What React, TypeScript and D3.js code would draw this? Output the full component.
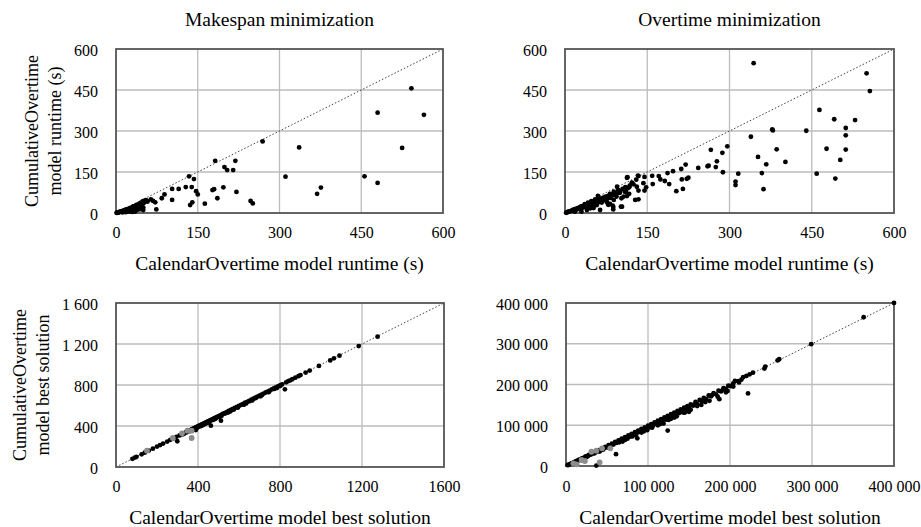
import * as d3 from "d3";
import { useEffect, useRef } from "react";

// tick values
const runtimeTicks = [0, 150, 300, 450, 600];
const makespanSolutionTicks = [0, 400, 800, 1200, 1600];
const overtimeSolutionTicks = [0, 100000, 200000, 300000, 400000];

// [CalendarOvertime, CumulativeOvertime]
const makespanRuntime = [
  [542, 456], [480, 367], [565, 359], [525, 238], [336, 240], [269, 262], [311, 133], [456, 134],
  [480, 110], [376, 93], [369, 70], [182, 191], [219, 191], [199, 168], [204, 157], [215, 157],
  [134, 134], [143, 124], [128, 95], [139, 95], [147, 80], [150, 68], [115, 88], [103, 88],
  [103, 48], [136, 29], [140, 39], [163, 34], [177, 84], [180, 87], [197, 94], [186, 54],
  [221, 77], [247, 44], [251, 35], [84, 54], [89, 68], [64, 50], [68, 44], [72, 39], [74, 13],
  [53, 41], [50, 35], [47, 29], [42, 23], [50, 11],
  [1, 0.5], [2, 1], [3, 1.5], [4, 2], [5, 3], [6, 3], [7, 4], [8, 5], [9, 5], [10, 6], [11, 7],
  [12, 6], [13, 8], [14, 9], [15, 8], [16, 10], [17, 11], [18, 9], [19, 12], [20, 13], [21, 10],
  [22, 14], [23, 15], [24, 11], [25, 16], [26, 18], [27, 13], [28, 19], [29, 20], [30, 14],
  [31, 22], [32, 24], [33, 17], [34, 25], [35, 10], [36, 26], [37, 28], [38, 20], [39, 30],
  [40, 31], [41, 15], [43, 33], [44, 25], [45, 35], [46, 38], [48, 36], [49, 42], [51, 44],
  [52, 39], [55, 47], [58, 42], [12, 2], [18, 3], [25, 5], [30, 4], [20, 6], [30, 8], [35, 5],
  [40, 12], [45, 14], [50, 20],
];

const overtimeRuntime = [
  [344, 548], [550, 511], [556, 446], [464, 377], [491, 343], [529, 340], [378, 306], [379, 302],
  [440, 301], [512, 311], [512, 284], [339, 279], [477, 235], [512, 232], [386, 233], [502, 194],
  [352, 205], [367, 178], [402, 187], [359, 146], [459, 144], [493, 126], [362, 87], [316, 144],
  [311, 115], [311, 102], [296, 244], [287, 220], [266, 231], [277, 189], [275, 168], [262, 173],
  [260, 171], [288, 149], [243, 165], [220, 177], [212, 161], [225, 129], [222, 125], [215, 88],
  [213, 123], [197, 153], [187, 146], [203, 80], [190, 106], [182, 117], [174, 123], [171, 135],
  [159, 136], [160, 106],
  [134, 135], [145, 132], [130, 122], [143, 109], [131, 96], [145, 82], [148, 94], [128, 48],
  [134, 50], [114, 131], [122, 109], [114, 90], [111, 78], [107, 60], [104, 23], [117, 70],
  [97, 84], [95, 96], [89, 48], [89, 78], [78, 62], [82, 70], [84, 55], [88, 22], [87, 27],
  [79, 30], [78, 35], [60, 63], [55, 50], [48, 43], [42, 38], [36, 32], [52, 18], [43, 18],
  [113, 129], [133, 137], [122, 111], [134, 82], [117, 94], [109, 78], [100, 74], [94, 60],
  [103, 54], [113, 62], [102, 23], [88, 13], [82, 33], [76, 41], [67, 38], [58, 29], [52, 23],
  [64, 11], [46, 17], [40, 11], [30, 5], [18, 5],
  [60, 45], [70, 52], [75, 58], [65, 48], [85, 65], [90, 68], [95, 72], [100, 80], [105, 88],
  [110, 95], [118, 100], [125, 105],
  [2, 1], [4, 2], [5, 4], [7, 5], [8, 6], [10, 7], [12, 9], [13, 8], [15, 12], [16, 10], [18, 14],
  [20, 15], [21, 12], [23, 18], [25, 19], [26, 16], [28, 22], [30, 24], [31, 18], [33, 26],
  [35, 27], [36, 22], [38, 30], [40, 31], [41, 25], [43, 34], [45, 35], [46, 28], [48, 38],
  [50, 40], [51, 30], [53, 42], [55, 44], [56, 35], [58, 46], [62, 50], [63, 40], [66, 53],
  [68, 45], [70, 56], [72, 48], [74, 60], [76, 50], [80, 62], [82, 55], [86, 66], [92, 70], [98, 75],
];

const makespanSolution = [
  [80, 80], [92, 92], [100, 99], [125, 124], [140, 140], [160, 160], [180, 179], [200, 199],
  [215, 214], [230, 229], [250, 248], [265, 265], [280, 279], [295, 294], [299, 251], [310, 308],
  [320, 318], [330, 328], [340, 338], [350, 349], [360, 356], [370, 369], [380, 378], [389, 361],
  [390, 388], [400, 398], [405, 395], [410, 408], [420, 417], [425, 410], [430, 428], [440, 437],
  [445, 430], [450, 447], [460, 458], [463, 403], [470, 466], [475, 460], [480, 477], [490, 487],
  [500, 496], [505, 488], [510, 507], [512, 452], [520, 517], [530, 526], [540, 536], [545, 530],
  [550, 547], [560, 556], [570, 566], [575, 560], [580, 576], [590, 586], [600, 597], [610, 606],
  [620, 616], [625, 610], [630, 627], [640, 636], [650, 646], [660, 656], [670, 667], [680, 676],
  [690, 686], [700, 697], [710, 705], [720, 716], [730, 727], [740, 736], [750, 746], [760, 757],
  [770, 766], [780, 777], [790, 786], [800, 796], [810, 806], [824, 758], [830, 826], [840, 837],
  [850, 846], [860, 856], [875, 871], [890, 886], [900, 897], [925, 921], [945, 941], [990, 986],
  [1045, 1040], [1063, 1060], [1090, 1086], [1184, 1180], [1276, 1271],
  [385, 370], [395, 380], [415, 400], [435, 420], [455, 440], [485, 470], [515, 500], [555, 540],
  [595, 580], [635, 620], [665, 650], [705, 690], [745, 730], [785, 770],
  [392, 385], [402, 392], [412, 404], [422, 412], [432, 424], [442, 432], [452, 444], [462, 452],
  [472, 463], [482, 474], [492, 482], [502, 493], [532, 522], [562, 551], [592, 582], [622, 612],
  [652, 642], [682, 672], [712, 702], [742, 732], [772, 762], [802, 792], [360, 350], [345, 338],
  [330, 322],
];
const makespanSolutionGray = [
  [151, 159], [277, 283], [322, 329], [348, 354], [369, 354], [369, 283],
];

const overtimeSolution = [
  [400000, 400000], [363000, 365000], [299000, 299000], [260000, 262000], [258000, 259000],
  [243000, 244000], [242000, 239000], [228000, 229000], [224000, 225000], [220000, 221000],
  [216000, 218000], [222000, 178000], [206000, 209000], [204000, 195000], [197000, 184000],
  [187000, 164000], [150000, 133000], [143000, 131000], [124000, 87000], [87000, 68000],
  [61000, 29000], [37000, 1000],
  [2000, 2000], [4000, 3800], [6000, 5500], [8000, 7800], [10000, 9200], [12000, 11500],
  [14000, 13000], [16000, 15500], [18000, 16500], [20000, 19500], [22000, 20000], [24000, 23500],
  [26000, 24000], [28000, 27000], [30000, 28000], [32000, 31500], [34000, 31000], [36000, 35000],
  [38000, 35500], [40000, 39000], [42000, 38000], [44000, 43000], [46000, 42500], [48000, 47000],
  [50000, 46000], [52000, 51000], [54000, 50000], [56000, 55000], [58000, 53000], [60000, 59000],
  [62000, 57000], [64000, 63000], [66000, 61000], [68000, 67000], [70000, 65000], [72000, 71000],
  [74000, 69000], [76000, 75000], [78000, 72000], [80000, 79000], [82000, 76000], [84000, 83000],
  [86000, 79000], [88000, 87000], [90000, 84000], [92000, 91000], [94000, 87000], [96000, 95000],
  [98000, 91000], [100000, 99000], [102000, 95000], [104000, 103000], [106000, 99000],
  [108000, 107000], [110000, 103000], [112000, 111000], [114000, 106000], [116000, 115000],
  [118000, 110000], [120000, 119000], [122000, 114000], [124000, 123000], [126000, 118000],
  [128000, 127000], [130000, 122000], [132000, 131000], [134000, 126000], [136000, 135000],
  [138000, 130000], [140000, 139000], [142000, 134000], [144000, 143000], [146000, 138000],
  [148000, 147000], [150000, 142000], [152000, 151000], [155000, 148000], [158000, 157000],
  [160000, 152000], [163000, 162000], [166000, 158000], [168000, 167000], [171000, 164000],
  [174000, 173000], [177000, 171000], [180000, 179000], [183000, 176000], [186000, 185000],
  [189000, 183000], [192000, 191000], [195000, 189000], [198000, 197000], [201000, 196000],
  [204000, 203000], [210000, 208000], [214000, 212000],
  [25000, 22000], [35000, 31500], [45000, 40000], [55000, 49000], [65000, 58000], [75000, 67000],
  [85000, 76000], [95000, 85000], [105000, 94000], [115000, 103000], [125000, 113000],
  [135000, 122000], [145000, 131000], [165000, 150000], [175000, 160000], [185000, 170000],
  [3000, 2600], [7000, 6100], [11000, 9800], [15000, 13600], [19000, 17400], [23000, 21000],
  [27000, 25200], [31000, 29000], [39000, 36800], [47000, 44500], [57000, 53800], [67000, 63200],
  [77000, 73000], [97000, 92500], [117000, 111500], [137000, 131000], [157000, 151000],
  [178000, 174000], [193000, 187000], [211000, 205000],
  [52000, 45500], [72000, 64000], [92000, 82000], [112000, 100000], [132000, 119000],
  [152000, 138000], [170000, 157000], [69000, 60000], [99000, 88000], [41000, 35500],
  [81000, 72500], [128000, 116000], [160000, 147000], [195000, 181000], [119000, 104000],
];
const overtimeSolutionGray = [
  [9000, 6600], [13000, 4200], [19000, 14700], [23000, 12300], [31000, 35000], [37000, 37500],
  [44000, 43400], [54000, 43400], [41000, 9000],
];

const font = "Liberation Serif, Times New Roman, serif";
const spaced = d3
  .formatLocale({ decimal: ".", thousands: " ", grouping: [3], currency: ["", ""] })
  .format(",d");
const plain = d3.format("d");

const panels = [
  {
    box: { l: 116, r: 443, t: 49, b: 213 },
    ticks: runtimeTicks,
    black: makespanRuntime,
    gray: [],
    xFormat: spaced,
    title: "Makespan minimization",
    xTitle: "CalendarOvertime model runtime (s)",
    yTitle: ["CumulativeOvertime", "model runtime (s)"],
    yTitleX: [37.5, 60.5],
    tickY: 238,
    xTitleY: 270,
  },
  {
    box: { l: 565, r: 894, t: 49, b: 213 },
    ticks: runtimeTicks,
    black: overtimeRuntime,
    gray: [],
    xFormat: spaced,
    title: "Overtime minimization",
    xTitle: "CalendarOvertime model runtime (s)",
    yTitle: [],
    yTitleX: [],
    tickY: 238,
    xTitleY: 270,
  },
  {
    box: { l: 116, r: 444, t: 303, b: 467 },
    ticks: makespanSolutionTicks,
    black: makespanSolution,
    gray: makespanSolutionGray,
    xFormat: plain,
    title: "",
    xTitle: "CalendarOvertime model best solution",
    yTitle: ["CumulativeOvertime", "model best solution"],
    yTitleX: [25.5, 48.5],
    tickY: 491.5,
    xTitleY: 524,
  },
  {
    box: { l: 566, r: 894, t: 303, b: 466 },
    ticks: overtimeSolutionTicks,
    black: overtimeSolution,
    gray: overtimeSolutionGray,
    xFormat: spaced,
    title: "",
    xTitle: "CalendarOvertime model best solution",
    yTitle: [],
    yTitleX: [],
    tickY: 491.5,
    xTitleY: 524,
  },
];

const ScatterGrid = ({ width, height }) => {
  const svgRef = useRef(null);

  useEffect(() => {
    const svg = d3.select(svgRef.current);
    svg.selectAll("*").remove();
    svg.attr("width", width).attr("height", height);

    panels.forEach((p) => {
      const { l, r, t, b } = p.box;
      const max = p.ticks[p.ticks.length - 1];
      const x = d3.scaleLinear().domain([0, max]).range([l, r]);
      const y = d3.scaleLinear().domain([0, max]).range([b, t]);
      const g = svg.append("g");

      // grid
      g.selectAll(".vgrid")
        .data(p.ticks.slice(1, -1))
        .enter()
        .append("line")
        .attr("x1", (d) => x(d))
        .attr("x2", (d) => x(d))
        .attr("y1", t)
        .attr("y2", b)
        .attr("stroke", "#bcbcbc")
        .attr("stroke-width", 1.3);
      g.selectAll(".hgrid")
        .data(p.ticks.slice(1, -1))
        .enter()
        .append("line")
        .attr("x1", l)
        .attr("x2", r)
        .attr("y1", (d) => y(d))
        .attr("y2", (d) => y(d))
        .attr("stroke", "#bcbcbc")
        .attr("stroke-width", 1.3);

      // diagonal
      g.append("line")
        .attr("x1", x(0))
        .attr("y1", y(0))
        .attr("x2", x(max))
        .attr("y2", y(max))
        .attr("stroke", "#404040")
        .attr("stroke-width", 1)
        .attr("stroke-dasharray", "1.5 2");

      // frame
      g.append("rect")
        .attr("x", l)
        .attr("y", t)
        .attr("width", r - l)
        .attr("height", b - t)
        .attr("fill", "none")
        .attr("stroke", "#555555")
        .attr("stroke-width", 1.8);

      g.selectAll(".blk")
        .data(p.black)
        .enter()
        .append("circle")
        .attr("cx", (d) => x(d[0]))
        .attr("cy", (d) => y(d[1]))
        .attr("r", 2.4)
        .attr("fill", "#000");
      g.selectAll(".gry")
        .data(p.gray)
        .enter()
        .append("circle")
        .attr("cx", (d) => x(d[0]))
        .attr("cy", (d) => y(d[1]))
        .attr("r", 2.9)
        .attr("fill", "#8c8c8c");

      // axes
      const xa = g
        .append("g")
        .attr("transform", `translate(0,${b})`)
        .call(d3.axisBottom(x).tickValues(p.ticks).tickSize(0).tickFormat(p.xFormat));
      xa.attr("font-family", null).attr("font-size", null);
      xa.select(".domain").remove();
      xa.selectAll("text")
        .attr("y", p.tickY - b)
        .attr("dy", 0)
        .style("font-family", font)
        .style("font-size", "16px")
        .attr("fill", "#000");

      const ya = g
        .append("g")
        .attr("transform", `translate(${l},0)`)
        .call(d3.axisLeft(y).tickValues(p.ticks).tickSize(0).tickPadding(18).tickFormat(spaced));
      ya.attr("font-family", null).attr("font-size", null);
      ya.select(".domain").remove();
      ya.selectAll("text")
        .attr("dy", "0.38em")
        .style("font-family", font)
        .style("font-size", "16px")
        .attr("fill", "#000");

      // titles
      if (p.title) {
        g.append("text")
          .attr("x", (l + r) / 2)
          .attr("y", 26)
          .attr("text-anchor", "middle")
          .style("font-family", font)
          .style("font-size", "19.5px")
          .text(p.title);
      }
      g.append("text")
        .attr("x", (l + r) / 2)
        .attr("y", p.xTitleY)
        .attr("text-anchor", "middle")
        .style("font-family", font)
        .style("font-size", "19.5px")
        .text(p.xTitle);
      p.yTitle.forEach((line, i) => {
        g.append("text")
          .attr("transform", `translate(${p.yTitleX[i]},${(t + b) / 2}) rotate(-90)`)
          .attr("text-anchor", "middle")
          .style("font-family", font)
          .style("font-size", "18px")
          .text(line);
      });
    });
  }, [width, height]);

  return (
    <svg ref={svgRef} style={{ position: "absolute", left: 0, top: 0, background: "#fff" }}></svg>
  );
};

export default function App() {
  return <ScatterGrid width={921} height={527} />;
}
